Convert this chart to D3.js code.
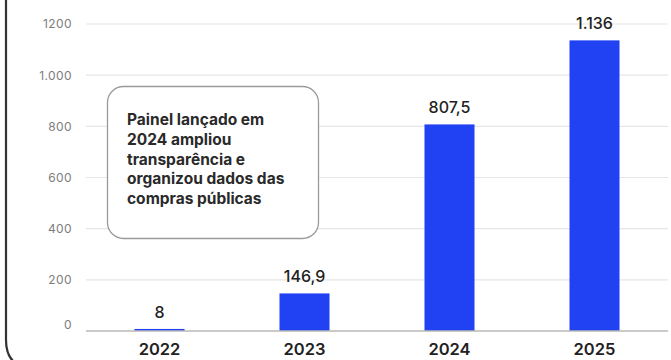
<!DOCTYPE html>
<html>
<head>
<meta charset="utf-8">
<script src="https://cdn.jsdelivr.net/npm/d3@7"></script>
<style>
  html, body { margin: 0; padding: 0; background: #ffffff; }
  svg { display: block; }
</style>
</head>
<body>
<svg id="chart" width="671" height="360"></svg>
<script>
// Compras públicas por ano
const years = ["2022", "2023", "2024", "2025"];
const values = [8, 146.9, 807.5, 1136];
const valueLabels = ["8", "146,9", "807,5", "1.136"];
const tickValues = [0, 200, 400, 600, 800, 1000, 1200];
const tickLabels = ["0", "200", "400", "600", "800", "1.000", "1200"];
const noteLines = [
  "Painel lançado em",
  "2024 ampliou",
  "transparência e",
  "organizou dados das",
  "compras públicas"
];

const svg = d3.select("#chart");
const font = "Inter, 'Open Sans', sans-serif";

// outer card border (only left side and bottom-left corner in view)
svg.append("path")
  .attr("d", "M6,-10 L6,340 Q6,368 34,368 L700,368")
  .attr("fill", "none")
  .attr("stroke", "#333")
  .attr("stroke-width", 2.2);

const x = d3.scaleBand()
  .domain(years)
  .range([87, 667])
  .paddingInner(0.655)
  .paddingOuter(0.3275);

const y = d3.scaleLinear()
  .domain([0, 1200])
  .range([331, 24]);

// gridlines
svg.append("g")
  .selectAll("line")
  .data(tickValues.filter(d => d > 0))
  .join("line")
  .attr("x1", 86).attr("x2", 668)
  .attr("y1", d => y(d)).attr("y2", d => y(d))
  .attr("stroke", "#e6e6e6")
  .attr("stroke-width", 1.2);

// y axis labels
const yAxis = d3.axisLeft(y)
  .tickValues(tickValues)
  .tickFormat((d, i) => tickLabels[i])
  .tickSize(0)
  .tickPadding(0);

const gy = svg.append("g")
  .attr("transform", "translate(72,0)")
  .call(yAxis);
gy.select(".domain").remove();
gy.selectAll("text")
  .attr("font-family", font)
  .attr("font-size", 12)
  .attr("letter-spacing", 0.4)
  .attr("fill", "#7d7d7d")
  .attr("dy", (d) => d === 0 ? "-0.25em" : "0.32em");

// bars
svg.append("g")
  .selectAll("rect")
  .data(values)
  .join("rect")
  .attr("x", (d, i) => x(years[i]))
  .attr("width", x.bandwidth())
  .attr("y", d => y(d))
  .attr("height", d => y(0) - y(d))
  .attr("fill", "#2142f2");

// baseline
svg.append("line")
  .attr("x1", 86).attr("x2", 668)
  .attr("y1", y(0)).attr("y2", y(0))
  .attr("stroke", "#b8b8b8")
  .attr("stroke-width", 1.5);

// value labels
svg.append("g")
  .selectAll("text")
  .data(values)
  .join("text")
  .attr("x", (d, i) => x(years[i]) + x.bandwidth() / 2)
  .attr("y", d => y(d) - 11)
  .attr("text-anchor", "middle")
  .attr("font-family", font)
  .attr("font-size", 16)
  .attr("font-weight", 500)
  .attr("fill", "#222")
  .text((d, i) => valueLabels[i]);

// x axis labels
const xAxis = d3.axisBottom(x).tickSize(0).tickPadding(0);
const gx = svg.append("g")
  .attr("transform", `translate(0,${y(0)})`)
  .call(xAxis);
gx.select(".domain").remove();
gx.selectAll("text")
  .attr("font-family", font)
  .attr("font-size", 16.5)
  .attr("font-weight", 600)
  .attr("fill", "#222")
  .attr("dy", "1.45em");

// annotation box
const note = svg.append("g");
note.append("rect")
  .attr("x", 107.5).attr("y", 86.5)
  .attr("width", 211).attr("height", 152)
  .attr("rx", 16)
  .attr("fill", "#fff")
  .attr("stroke", "#9a9a9a")
  .attr("stroke-width", 1.3);
note.append("text")
  .attr("font-family", font)
  .attr("font-size", 15.5)
  .attr("font-weight", 700)
  .attr("fill", "#2a2a2a")
  .selectAll("tspan")
  .data(noteLines)
  .join("tspan")
  .attr("x", 127)
  .attr("y", (d, i) => 125 + i * 19.8)
  .text(d => d);
</script>
</body>
</html>
